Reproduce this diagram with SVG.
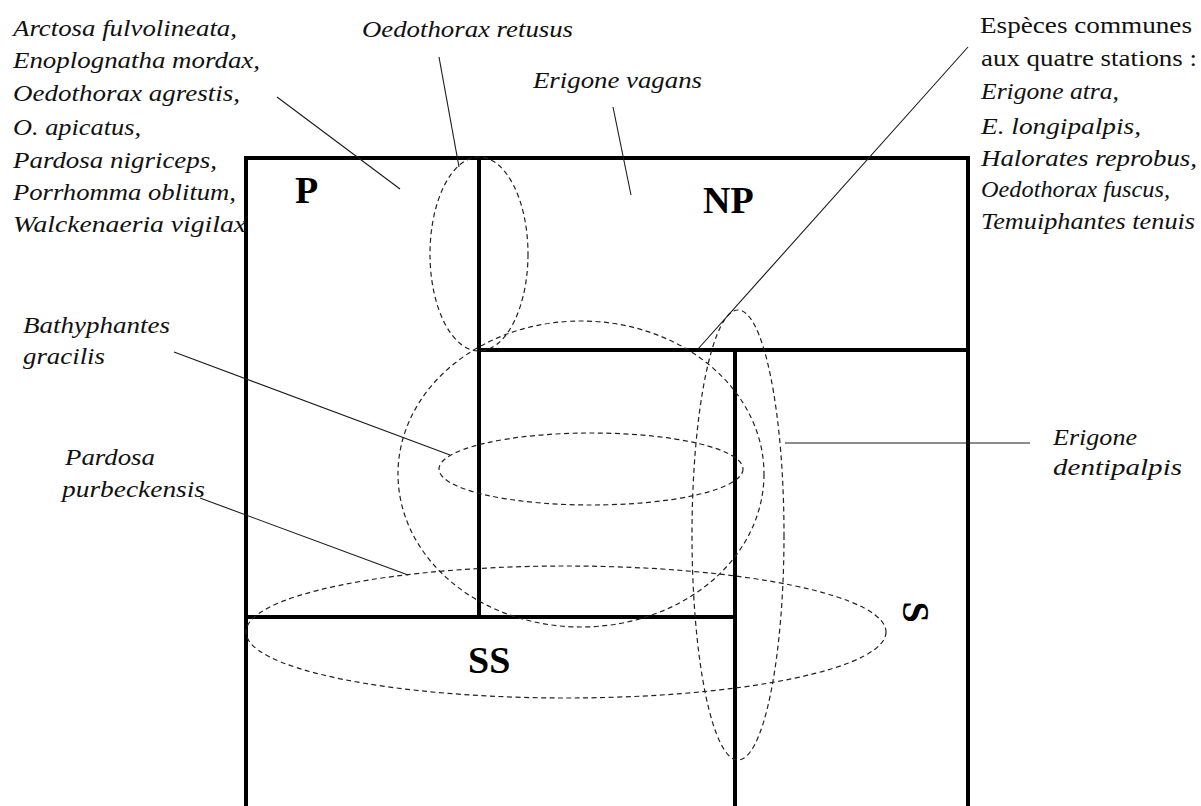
<svg xmlns="http://www.w3.org/2000/svg" width="1201" height="806" viewBox="0 0 1201 806">
<style>
.frame{fill:none;stroke:#000;stroke-width:4;stroke-linecap:square}
.lead{fill:none;stroke:#1a1a1a;stroke-width:1.1}
.set{fill:none;stroke:#222;stroke-width:1.2;stroke-dasharray:5 3.5}
.it{font-family:"Liberation Serif","Times New Roman",serif;font-style:italic;font-size:24px;fill:#111}
.up{font-family:"Liberation Serif","Times New Roman",serif;font-size:24px;fill:#111}
.big{font-family:"Liberation Serif","Times New Roman",serif;font-weight:bold;font-size:38px;fill:#000}
</style>
<rect width="1201" height="806" fill="#fff"/>
<g id="frame">
<path class="frame" d="M246,806 V158 H968 V806"/>
<path class="frame" d="M479,158 V617"/>
<path class="frame" d="M479,350 H968"/>
<path class="frame" d="M735,350 V806"/>
<path class="frame" d="M246,617 H735"/>
</g>
<g id="zone-P"><text class="big" x="295" y="203">P</text></g>
<g id="zone-NP"><text class="big" x="703" y="213">NP</text></g>
<g id="zone-SS"><text class="big" x="468" y="673">SS</text></g>
<g id="zone-S"><text class="big" transform="translate(916,612) rotate(90)" x="0" y="13" text-anchor="middle">S</text></g>
<g id="sets">
<ellipse id="set-retusus" class="set" cx="479" cy="254" rx="49" ry="97"/>
<ellipse id="set-circle" class="set" cx="581" cy="474" rx="183" ry="153"/>
<ellipse id="set-bathyphantes" class="set" cx="591" cy="469" rx="152" ry="36"/>
<ellipse id="set-pardosa" class="set" cx="566" cy="632" rx="320" ry="66"/>
<ellipse id="set-dentipalpis" class="set" cx="738" cy="535" rx="46" ry="225"/>
</g>
<g id="connectors">
<line class="lead" x1="277" y1="97" x2="400" y2="189"/>
<line class="lead" x1="439" y1="57" x2="459" y2="167"/>
<line class="lead" x1="613" y1="107" x2="631" y2="195"/>
<line class="lead" x1="968" y1="47" x2="698" y2="349"/>
<line class="lead" x1="174" y1="352" x2="450" y2="455"/>
<line class="lead" x1="200" y1="498" x2="408" y2="575"/>
<line class="lead" x1="785" y1="443" x2="1030" y2="443"/>
</g>
<g id="label-P-list">
<text class="it" x="13" y="36" textLength="224" lengthAdjust="spacingAndGlyphs">Arctosa fulvolineata,</text>
<text class="it" x="13" y="68" textLength="247" lengthAdjust="spacingAndGlyphs">Enoplognatha mordax,</text>
<text class="it" x="13" y="101" textLength="227" lengthAdjust="spacingAndGlyphs">Oedothorax agrestis,</text>
<text class="it" x="13" y="135" textLength="128" lengthAdjust="spacingAndGlyphs">O. apicatus,</text>
<text class="it" x="13" y="168" textLength="204" lengthAdjust="spacingAndGlyphs">Pardosa nigriceps,</text>
<text class="it" x="13" y="200" textLength="223" lengthAdjust="spacingAndGlyphs">Porrhomma oblitum,</text>
<text class="it" x="13" y="232" textLength="233" lengthAdjust="spacingAndGlyphs">Walckenaeria vigilax</text>
</g>
<g id="label-retusus"><text class="it" x="362" y="37" textLength="211" lengthAdjust="spacingAndGlyphs">Oedothorax retusus</text></g>
<g id="label-vagans"><text class="it" x="533" y="88" textLength="169" lengthAdjust="spacingAndGlyphs">Erigone vagans</text></g>
<g id="label-common">
<text class="up" x="980" y="33" textLength="212" lengthAdjust="spacingAndGlyphs">Espèces communes</text>
<text class="up" x="981" y="66" textLength="216" lengthAdjust="spacingAndGlyphs">aux quatre stations :</text>
<text class="it" x="981" y="99" textLength="138" lengthAdjust="spacingAndGlyphs">Erigone atra,</text>
<text class="it" x="981" y="134" textLength="160" lengthAdjust="spacingAndGlyphs">E. longipalpis,</text>
<text class="it" x="981" y="166" textLength="216" lengthAdjust="spacingAndGlyphs">Halorates reprobus,</text>
<text class="it" x="981" y="197" textLength="189" lengthAdjust="spacingAndGlyphs">Oedothorax fuscus,</text>
<text class="it" x="981" y="229" textLength="214" lengthAdjust="spacingAndGlyphs">Temuiphantes tenuis</text>
</g>
<g id="label-bathyphantes">
<text class="it" x="23" y="333" textLength="147" lengthAdjust="spacingAndGlyphs">Bathyphantes</text>
<text class="it" x="23" y="364" textLength="82" lengthAdjust="spacingAndGlyphs">gracilis</text>
</g>
<g id="label-pardosa">
<text class="it" x="65" y="465" textLength="90" lengthAdjust="spacingAndGlyphs">Pardosa</text>
<text class="it" x="62" y="497" textLength="143" lengthAdjust="spacingAndGlyphs">purbeckensis</text>
</g>
<g id="label-dentipalpis">
<text class="it" x="1053" y="445" textLength="84" lengthAdjust="spacingAndGlyphs">Erigone</text>
<text class="it" x="1053" y="475" textLength="129" lengthAdjust="spacingAndGlyphs">dentipalpis</text>
</g>
</svg>
